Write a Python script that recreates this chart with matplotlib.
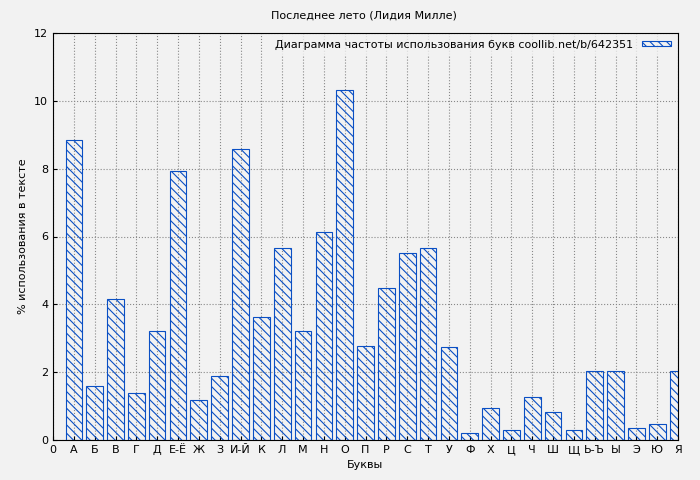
import matplotlib
matplotlib.use("Agg")
import matplotlib.pyplot as plt

labels = ["0", "А", "Б", "В", "Г", "Д", "Е-Ё", "Ж", "З", "И-Й", "К", "Л", "М", "Н", "О",
          "П", "Р", "С", "Т", "У", "Ф", "Х", "Ц", "Ч", "Ш", "Щ", "Ь-Ъ", "Ы", "Э", "Ю", "Я"]
letters = labels[1:]
values = [8.85, 1.6, 4.15, 1.38, 3.22, 7.92, 1.17, 1.9, 8.57, 3.62, 5.67, 3.2, 6.12, 10.33,
          2.78, 4.47, 5.5, 5.67, 2.75, 0.22, 0.93, 0.3, 1.28, 0.83, 0.3, 2.02, 2.02, 0.35, 0.48, 2.02]

bg = "#f2f2f2"
blue = "#0a4fc4"
plt.rcParams["hatch.color"] = blue
plt.rcParams["hatch.linewidth"] = 0.8

fig = plt.figure(figsize=(7, 4.8), dpi=100, facecolor=bg)
ax = fig.add_axes([53 / 700, 40 / 480, 625 / 700, 407 / 480], facecolor=bg)

positions = list(range(1, len(letters) + 1))
ax.bar(positions, values, width=0.8, facecolor="none", edgecolor=blue, hatch="\\\\\\\\",
       linewidth=0.8, label="Диаграмма частоты использования букв coollib.net/b/642351", zorder=3)

ax.set_xlim(0, 30)
ax.set_ylim(0, 12)
ax.set_xticks(range(len(labels)))
ax.set_xticklabels(labels, fontsize=8)
ax.set_yticks(range(0, 13, 2))
ax.tick_params(axis="y", labelsize=8)
ax.tick_params(direction="in", length=3)
ax.grid(True, linestyle=":", color="#888888", linewidth=0.8, zorder=0)
for s in ax.spines.values():
    s.set_color("black")

ax.set_xlabel("Буквы", fontsize=8)
ax.set_ylabel("% использования в тексте", fontsize=8)
fig.text(0.52, 0.967, "Последнее лето (Лидия Милле)", ha="center", va="center", fontsize=8)
leg = ax.legend(loc="upper right", fontsize=8, frameon=True, fancybox=False,
                handlelength=2.6, handleheight=0.35, markerfirst=False, borderaxespad=0.2)
leg.get_frame().set_facecolor(bg)
leg.get_frame().set_edgecolor(bg)

fig.savefig("out.png", dpi=100, facecolor=bg)
